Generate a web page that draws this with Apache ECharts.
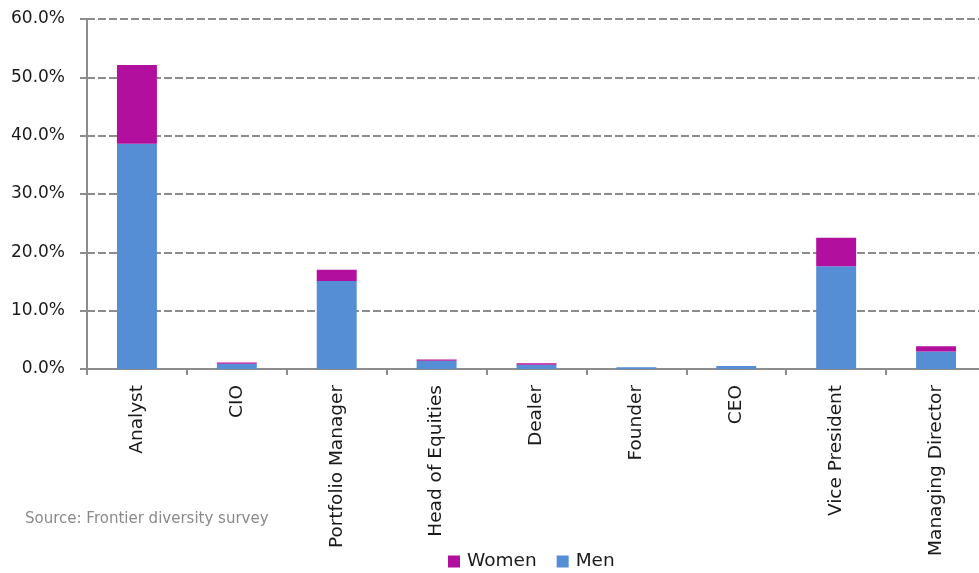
<!DOCTYPE html>
<html>
<head>
<meta charset="utf-8">
<script src="https://cdn.jsdelivr.net/npm/echarts@6/dist/echarts.min.js"></script>
<style>
  html, body { margin: 0; padding: 0; background: #fff; }
  #chart { width: 979px; height: 573px; }
</style>
</head>
<body>
<div id="chart"></div>
<script>
// Job titles along the x axis
const categories = ['Analyst', 'CIO', 'Portfolio Manager', 'Head of Equities', 'Dealer', 'Founder', 'CEO', 'Vice President', 'Managing Director'];
// Share of respondents (%) by role
const menValues = [38.6, 0.9, 15.1, 1.4, 0.75, 0.3, 0.5, 17.6, 3.0];
const womenValues = [13.5, 0.2, 1.9, 0.25, 0.25, 0.0, 0.0, 4.9, 0.9];
const yTicks = [0, 10, 20, 30, 40, 50, 60];

const chart = echarts.init(document.getElementById('chart'));
const axisGray = '#8c8c8c';
const labelFont = '"DejaVu Sans", Verdana, sans-serif';

chart.setOption({
  animation: false,
  // the plot runs slightly past the right edge of the canvas
  grid: { left: 87, width: 899, top: 19, height: 350, containLabel: false, outerBoundsMode: 'none' },
  legend: {
    data: ['Women', 'Men'],
    top: 547,
    left: 443,
    itemWidth: 12,
    itemHeight: 12,
    itemGap: 20,
    icon: 'rect',
    textStyle: { fontFamily: labelFont, fontSize: 18.5, color: '#1a1a1a', padding: [0, 0, 0, 2] }
  },
  graphic: [{
    type: 'text',
    left: 25,
    top: 512,
    style: {
      text: 'Source: Frontier diversity survey',
      fill: '#8a8a8a',
      font: '15px "DejaVu Sans", sans-serif'
    }
  }],
  xAxis: {
    type: 'category',
    data: categories,
    axisLine: { lineStyle: { color: axisGray, width: 2 } },
    axisTick: { show: true, alignWithLabel: false, length: 6, lineStyle: { color: axisGray, width: 2 } },
    axisLabel: {
      rotate: 90,
      interval: 0,
      margin: 16,
      fontFamily: labelFont,
      fontSize: 18.5,
      color: '#1a1a1a'
    }
  },
  yAxis: {
    type: 'value',
    min: yTicks[0],
    max: yTicks[yTicks.length - 1],
    interval: 10,
    axisLine: { show: true, lineStyle: { color: axisGray, width: 2 } },
    axisTick: { show: true, length: 7, lineStyle: { color: axisGray, width: 2 } },
    axisLabel: {
      margin: 22,
      fontFamily: labelFont,
      fontSize: 17,
      color: '#1a1a1a',
      formatter: v => v.toFixed(1) + '%'
    },
    splitLine: { show: true, lineStyle: { color: axisGray, type: [8, 3], width: 2 } }
  },
  series: [
    {
      name: 'Men',
      type: 'bar',
      stack: 'total',
      data: menValues,
      barWidth: '40%',
      itemStyle: { color: '#558ED5' }
    },
    {
      name: 'Women',
      type: 'bar',
      stack: 'total',
      data: womenValues,
      barWidth: '40%',
      itemStyle: { color: '#B30F9E' }
    }
  ]
});
</script>
</body>
</html>
